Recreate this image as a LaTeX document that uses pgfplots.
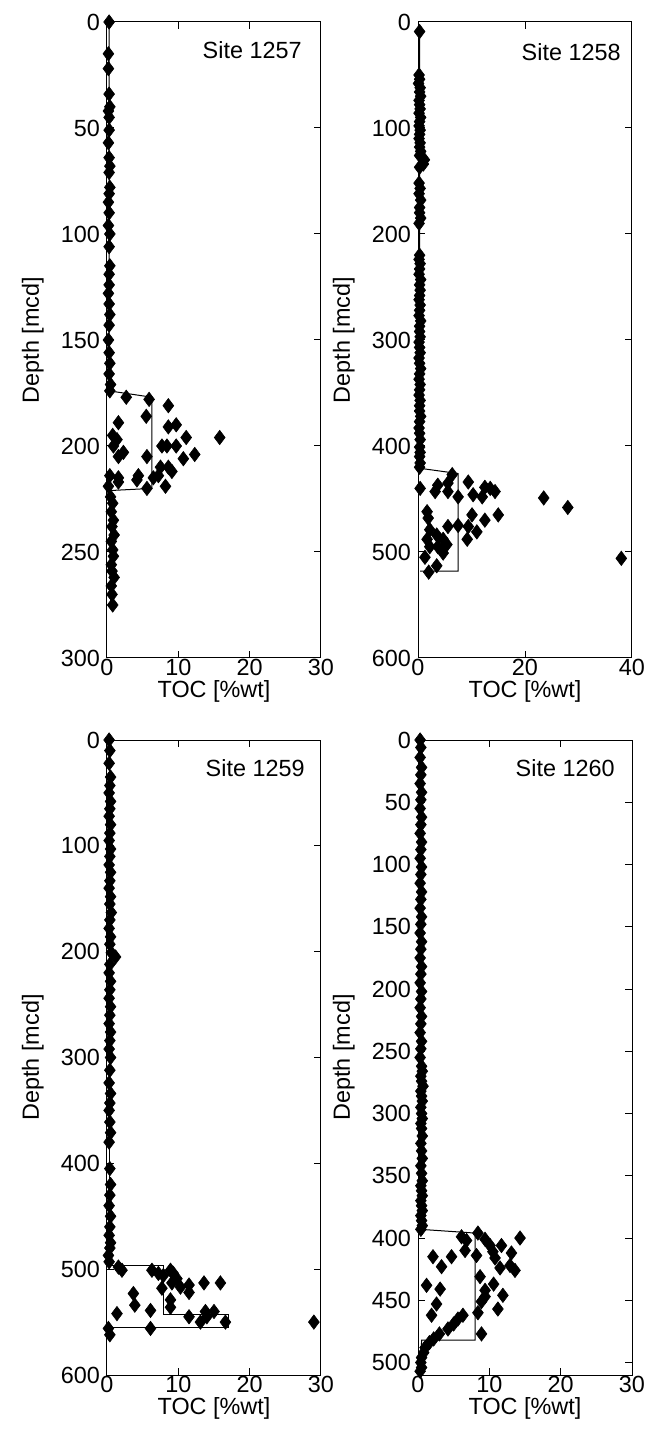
\documentclass[border=0pt]{standalone}
\usepackage{fontspec}
\setmainfont{Liberation Sans}
\usepackage{pgfplots}
\pgfplotsset{compat=1.18}
\newcommand{\lbl}{\fontsize{11.7}{14}\selectfont}
\pgfplotsset{
  panel/.style={
    scale only axis, width=107pt, height=318pt,
    y dir=reverse, xmin=0, clip=false,
    axis line style={line width=0.5pt},
    major tick length=3.5pt,
    tick style={line width=0.5pt, black},
    tick label style={font=\lbl},
    xticklabel style={inner sep=0pt, yshift=-0.5pt},
    /pgf/number format/assume math mode=true,
    label style={font=\lbl},
    xlabel={TOC [\%wt]},
    ylabel={Depth [mcd]},
    xlabel style={at={(axis description cs:0.5,-0.0355)}, anchor=north, inner sep=0pt},
    ylabel style={at={(axis description cs:-0.294,0.5)}, anchor=south, inner sep=0pt},
  },
  pts/.style={only marks, mark=diamond*, mark size=3.6pt, black, mark options={fill=black, line width=0.3pt}},
  avg/.style={black, line width=0.5pt, no marks},
}
\begin{document}
\begin{tikzpicture}
\path[use as bounding box] (0,0) rectangle (329.5pt,722.5pt);
% ---------------- Site 1257
\begin{axis}[panel, at={(53.5pt,393.5pt)}, anchor=south west,
  xmax=30, xtick={0,10,20,30}, ymin=0, ymax=300, ytick={0,50,...,300}]
\addplot[avg] coordinates {(0.3,0) (0.3,174) (6.3,177) (6.3,220) (0.5,221) (0.5,276)};
\addplot[pts] coordinates {
(0.3,0) (0.2,15) (0.2,22) (0.3,34) (0.4,40) (0.2,42) (0.3,45) (0.3,51) (0.2,57) (0.3,64)
(0.4,68) (0.3,71) (0.4,78) (0.3,81) (0.2,85) (0.3,90) (0.2,96) (0.4,100) (0.3,106) (0.4,115)
(0.3,119) (0.3,124) (0.2,128) (0.3,133) (0.4,138) (0.3,143) (0.2,150) (0.3,156) (0.4,161)
(0.3,166) (0.5,171) (0.4,174)
(2.7,177) (5.9,178) (8.6,181) (5.5,186) (1.6,189) (8.6,191) (9.7,190) (11.1,196) (15.8,196)
(0.8,195) (1.4,197) (0.9,200) (2.3,203) (1.6,205) (5.6,205) (7.7,200) (8.4,200) (9.7,200)
(10.7,206) (12.3,204) (7.5,210) (8.6,210) (9.1,212) (4.4,214) (0.4,214) (1.6,215) (6.5,215)
(7.2,214) (1.6,217) (4.2,216) (5.6,220) (8.2,219) (0.2,219)
(0.5,224) (0.8,227) (0.6,231) (0.9,235) (0.7,238) (1.0,242) (0.6,245) (0.8,249) (0.9,252)
(0.6,256) (0.7,259) (1.0,262) (0.6,266) (0.7,270) (0.8,275)
};
\node[anchor=north east, inner sep=0pt, font=\lbl] at (axis description cs:1,1) [xshift=-9.5pt, yshift=-9.5pt] {Site 1257};
\end{axis}
% ---------------- Site 1258
\begin{axis}[panel, at={(209pt,393.5pt)}, anchor=south west,
  xmax=40, xtick={0,20,40}, ymin=0, ymax=600, ytick={0,100,...,600}]
\addplot[avg] coordinates {(0.3,9) (0.3,421) (7.5,426) (7.5,518) (0.4,518)};
\addplot[pts] coordinates {
(0.3,9) (0.2,50) (0.3,54) (0.1,58) (0.4,62) (0.3,66) (0.5,70) (0.2,74) (0.3,78) (0.4,82)
(0.2,86) (0.5,90) (0.3,94) (0.2,98) (0.4,102) (0.3,106) (0.2,110) (0.4,114) (0.3,118)
(0.5,122) (0.3,126) (1.2,130) (1.0,134) (0.3,137) (0.2,152) (0.4,157) (0.2,162) (0.5,168)
(0.3,175) (0.3,180) (0.5,185) (0.2,190) (0.3,220) (0.2,224) (0.4,228) (0.3,233) (0.2,238)
(0.5,243) (0.3,248) (0.4,253) (0.3,258) (0.2,262) (0.4,267) (0.3,272) (0.2,277) (0.5,282)
(0.3,287) (0.3,292) (0.4,297) (0.2,302) (0.3,307) (0.4,312) (0.2,317) (0.3,322) (0.5,327)
(0.3,332) (0.2,337) (0.4,342) (0.3,347) (0.2,352) (0.4,357) (0.3,362) (0.3,367) (0.5,372)
(0.3,377) (0.2,383) (0.3,388) (0.4,394) (0.3,401) (0.4,406) (0.3,410) (0.4,416) (0.3,420)
(0.4,440) (6.4,427) (3.7,437) (3.2,443) (5.6,435) (5.6,443) (7.5,448) (9.4,434) (10.3,446)
(12.5,439) (13.5,440) (14.4,443) (12.0,448) (1.7,462) (1.9,468) (10.1,465) (15.0,465)
(12.5,470) (9.4,476) (5.6,476) (7.5,475) (2.2,479) (3.5,484) (1.7,488) (4.7,488) (9.2,488)
(11.0,481) (2.2,495) (3.7,495) (5.4,493) (4.7,501) (1.3,505) (2.0,519) (3.5,513)
(23.5,449) (28.0,458) (38.0,506)
};
\node[anchor=north east, inner sep=0pt, font=\lbl] at (axis description cs:1,1) [xshift=-5.5pt, yshift=-10.5pt] {Site 1258};
\end{axis}
% ---------------- Site 1259
\begin{axis}[panel, at={(53.5pt,35pt)}, anchor=south west, height=317.5pt,
  xmax=30, xtick={0,10,20,30}, ymin=0, ymax=600, ytick={0,100,...,600}]
\addplot[avg] coordinates {(0.3,0) (0.3,497) (7.9,497) (7.9,543) (17,543) (17,555) (0.3,555) (0.3,562)};
\addplot[pts] coordinates {
(0.3,0) (0.4,10) (0.3,22) (0.5,35) (0.4,43) (0.3,50) (0.5,58) (0.4,65) (0.3,72) (0.5,80)
(0.4,88) (0.3,95) (0.5,103) (0.4,110) (0.3,118) (0.5,125) (0.4,133) (0.3,140) (0.5,148)
(0.4,155) (0.6,163) (0.4,170) (0.3,178) (0.5,186) (0.4,193) (0.6,201) (1.2,205) (0.4,212)
(0.3,220) (0.5,228) (0.4,236) (0.3,244) (0.5,252) (0.4,260) (0.3,268) (0.5,276) (0.4,284)
(0.3,292) (0.5,300) (0.4,312) (0.3,324) (0.5,334) (0.4,343) (0.3,350) (0.4,361) (0.5,371)
(0.3,380) (0.4,405) (0.5,420) (0.4,430) (0.3,440) (0.5,450) (0.4,460) (0.3,468) (0.5,475)
(0.4,480) (0.2,487) (0.3,493)
(1.6,498) (2.1,501) (6.3,501) (7.2,504) (7.9,506) (8.9,501) (9.3,504) (9.8,509) (9.1,513)
(7.7,518) (10.3,517) (11.5,515) (11.5,522) (13.6,513) (15.9,513) (3.7,523) (3.9,534)
(6.1,539) (1.4,542) (8.9,529) (8.9,536) (11.5,545) (13.8,540) (15.0,540) (13.1,550)
(14.0,545) (16.6,550) (6.1,556) (0.2,556) (0.4,562) (29.0,550)
};
\node[anchor=north east, inner sep=0pt, font=\lbl] at (axis description cs:1,1) [xshift=-8pt, yshift=-9.5pt] {Site 1259};
\end{axis}
% ---------------- Site 1260
\begin{axis}[panel, at={(209pt,35pt)}, anchor=south west, height=317.5pt,
  xmax=30, xtick={0,10,20,30}, ymin=0, ymax=510, ytick={0,50,...,500}]
\addplot[avg] coordinates {(0.3,0) (0.3,393) (8,396) (8,482) (0.5,482) (0.4,507)};
\addplot[pts] coordinates {
(0.3,0) (0.4,6) (0.3,14) (0.5,22) (0.4,28) (0.3,35) (0.5,42) (0.4,48) (0.3,55) (0.5,62)
(0.4,68) (0.3,75) (0.5,82) (0.4,88) (0.3,95) (0.5,102) (0.4,108) (0.3,115) (0.5,122)
(0.4,128) (0.3,135) (0.5,142) (0.4,148) (0.3,155) (0.5,162) (0.4,168) (0.3,175) (0.5,182)
(0.4,188) (0.3,195) (0.5,202) (0.4,208) (0.3,215) (0.5,222) (0.4,228) (0.3,235) (0.5,242)
(0.4,248) (0.3,255) (0.5,262) (0.6,266) (0.4,270) (0.5,274) (0.7,278) (0.4,282) (0.5,286)
(0.6,290) (0.4,295) (0.5,300) (0.6,304) (0.4,308) (0.5,312) (0.6,318) (0.4,324) (0.5,330)
(0.6,336) (0.4,342) (0.5,348) (0.6,354) (0.4,358) (0.5,362) (0.6,366) (0.4,370) (0.5,374)
(0.6,378) (0.4,382) (0.5,386) (0.6,390) (0.4,393)
(6.1,399) (6.8,402) (8.4,396) (9.4,401) (10.1,406) (11.7,406) (14.3,400) (6.6,410) (8.2,414)
(10.5,411) (10.8,416) (13.1,412) (12.9,422) (13.6,426) (11.5,424) (2.1,415) (4.7,415)
(3.3,423) (8.7,431) (10.6,437) (9.4,442) (11.9,446) (9.4,447) (1.2,438) (3.1,441) (2.6,453)
(8.9,451) (11.2,457) (8.4,460) (1.9,462) (6.3,462) (5.6,465)
(5.0,469) (4.2,473) (8.9,477) (3.0,477) (2.2,481) (1.6,484) (1.0,488) (0.8,492) (0.5,496)
(0.4,500) (0.5,504) (0.3,507)
};
\node[anchor=north east, inner sep=0pt, font=\lbl] at (axis description cs:1,1) [xshift=-8.5pt, yshift=-9.5pt] {Site 1260};
\end{axis}
\end{tikzpicture}
\end{document}
